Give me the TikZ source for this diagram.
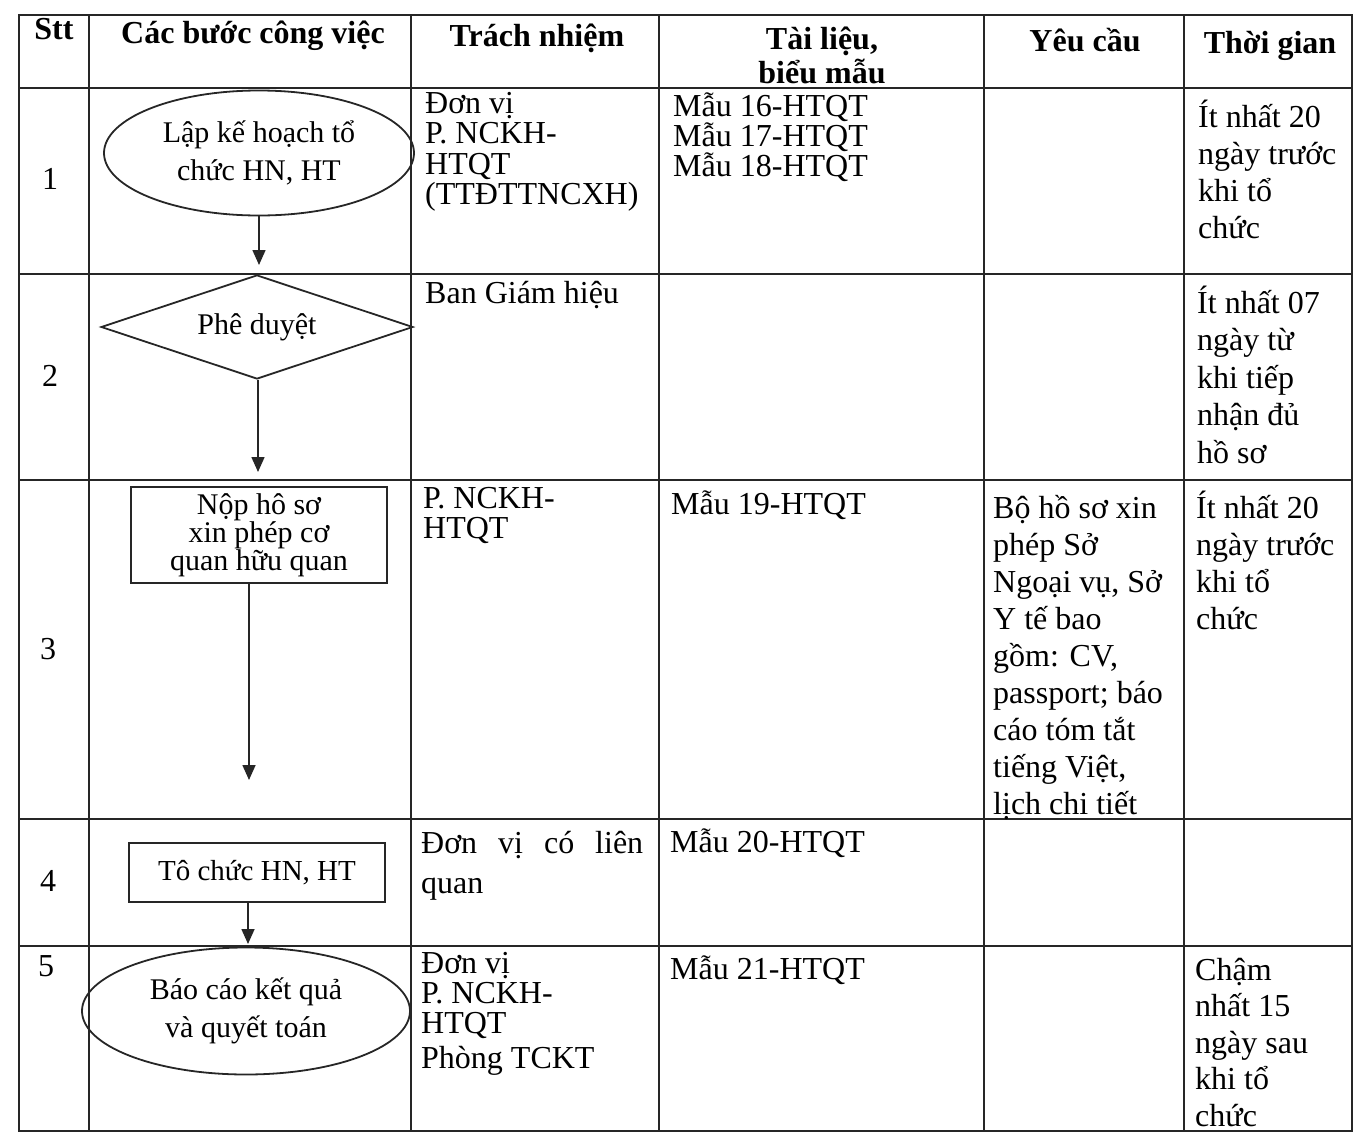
\documentclass[tikz,border=0pt]{standalone}
\usepackage{fontspec}
\setmainfont{Liberation Serif}
\usetikzlibrary{shapes.geometric,arrows.meta}
\begin{document}
\begin{tikzpicture}[x=1pt,y=-1pt,
  grid/.style={line width=1.6pt, draw=black!85},
  shp/.style={draw=black!85, line width=1.8pt, inner sep=0pt, align=center},
  arr/.style={draw=black!85, line width=1.6pt, -{Triangle[length=15pt,width=13pt]}},
  txt/.style={anchor=base west, inner sep=0pt, font=\fontsize{32}{37}\selectfont},
  hd/.style={anchor=base, inner sep=0pt, font=\fontsize{32}{37}\selectfont\bfseries},
  num/.style={anchor=base, inner sep=0pt, font=\fontsize{32}{37}\selectfont},
  stxt/.style={font=\fontsize{30}{37.5}\selectfont}]
\useasboundingbox (0,0) rectangle (1361,1133);
% table grid
\draw[grid] (19,15) rectangle (1352,1131);
\foreach \yy in {88,274,480,819,946} \draw[grid] (19,\yy) -- (1352,\yy);
\foreach \xx in {89,411,659,984,1184} \draw[grid] (\xx,15) -- (\xx,1131);
% header
\node[hd] (hstt) at (54,39) {Stt};
\node[hd] (hstep) at (253,43) {Các bước công việc};
\node[hd] (hresp) at (537,46) {Trách nhiệm};
\node[hd] (hdoc1) at (822,49) {Tài liệu,};
\node[hd] (hdoc2) at (822,83) {biểu mẫu};
\node[hd] (hreq) at (1085,51) {Yêu cầu};
\node[hd] (htime) at (1270,53) {Thời gian};
% row numbers
\node[num] (n1) at (50,189) {1};
\node[num] (n2) at (50,386) {2};
\node[num] (n3) at (48,659) {3};
\node[num] (n4) at (48,891) {4};
\node[num] (n5) at (46,976) {5};
% flow shapes
\node[shp, ellipse, minimum width=310pt, minimum height=125pt, stxt] (s1) at (259,153) {Lập kế hoạch tổ\\chức HN, HT};
\node[shp, diamond, aspect=3, minimum width=312pt, minimum height=104pt, stxt] (s2) at (257,327) {Phê duyệt};
\node[shp, rectangle, minimum width=256pt, minimum height=96pt, font=\fontsize{30}{24}\selectfont] (s3) at (259,535) {Nộp hô sơ\\xin phép cơ\\quan hữu quan};
\node[shp, rectangle, minimum width=256pt, minimum height=59pt, font=\fontsize{29}{36}\selectfont] (s4) at (257,872.5) {Tô chức HN, HT};
\node[shp, ellipse, minimum width=328pt, minimum height=127pt, stxt] (s5) at (246,1011) {Báo cáo kết quả\\và quyết toán};
% connectors
\coordinate (e1) at (259,265);
\coordinate (e2) at (258,472);
\coordinate (e3) at (249,780);
\coordinate (e4) at (248,944);
\draw[arr] (s1.south -| e1) -- (e1);
\draw[arr] (s2.south -| e2) -- (e2);
\draw[arr] (s3.south -| e3) -- (e3);
\draw[arr] (s4.south -| e4) -- (e4);
% row 1
\node[txt] (r1a1) at (425,113) {Đơn vị};
\node[txt] (r1a2) at (425,143.5) {P. NCKH-};
\node[txt] (r1a3) at (425,174) {HTQT};
\node[txt] (r1a4) at (425,204.5) {(TTĐTTNCXH)};
\node[txt] (r1b1) at (673,116) {Mẫu 16-HTQT};
\node[txt] (r1b2) at (673,146) {Mẫu 17-HTQT};
\node[txt] (r1b3) at (673,176) {Mẫu 18-HTQT};
\node[txt] (r1c1) at (1198,127) {Ít nhất 20};
\node[txt] (r1c2) at (1198,164) {ngày trước};
\node[txt] (r1c3) at (1198,201) {khi tổ};
\node[txt] (r1c4) at (1198,238) {chức};
% row 2
\node[txt] (r2a1) at (425,303) {Ban Giám hiệu};
\node[txt] (r2c1) at (1197,313) {Ít nhất 07};
\node[txt] (r2c2) at (1197,350.5) {ngày từ};
\node[txt] (r2c3) at (1197,388) {khi tiếp};
\node[txt] (r2c4) at (1197,425.5) {nhận đủ};
\node[txt] (r2c5) at (1197,463) {hồ sơ};
% row 3
\node[txt] (r3a1) at (423,508) {P. NCKH-};
\node[txt] (r3a2) at (423,538) {HTQT};
\node[txt] (r3b1) at (671,514) {Mẫu 19-HTQT};
\node[txt] (r3d1) at (993,518) {Bộ hồ sơ xin};
\node[txt] (r3d2) at (993,555) {phép Sở};
\node[txt] (r3d3) at (993,592) {Ngoại vụ, Sở};
\node[txt] (r3d4) at (993,629) {Y tế bao};
\node[txt] (r3d5) at (993,666) {gồm: CV,};
\node[txt] (r3d6) at (993,703) {passport; báo};
\node[txt] (r3d7) at (993,740) {cáo tóm tắt};
\node[txt] (r3d8) at (993,777) {tiếng Việt,};
\node[txt] (r3d9) at (993,814) {lịch chi tiết};
\node[txt] (r3c1) at (1196,518) {Ít nhất 20};
\node[txt] (r3c2) at (1196,555) {ngày trước};
\node[txt] (r3c3) at (1196,592) {khi tổ};
\node[txt] (r3c4) at (1196,629) {chức};
% row 4
\node[txt] (r4a1) at (421,853) {\makebox[222pt][s]{Đơn vị có liên}};
\node[txt] (r4a2) at (421,893) {quan};
\node[txt] (r4b1) at (670,852) {Mẫu 20-HTQT};
% row 5
\node[txt] (r5a1) at (421,973) {Đơn vị};
\node[txt] (r5a2) at (421,1003) {P. NCKH-};
\node[txt] (r5a3) at (421,1033) {HTQT};
\node[txt] (r5a4) at (421,1068) {Phòng TCKT};
\node[txt] (r5b1) at (670,979) {Mẫu 21-HTQT};
\node[txt] (r5c1) at (1195,980) {Chậm};
\node[txt] (r5c2) at (1195,1016.5) {nhất 15};
\node[txt] (r5c3) at (1195,1053) {ngày sau};
\node[txt] (r5c4) at (1195,1089.5) {khi tổ};
\node[txt] (r5c5) at (1195,1126) {chức};
\end{tikzpicture}
\end{document}
